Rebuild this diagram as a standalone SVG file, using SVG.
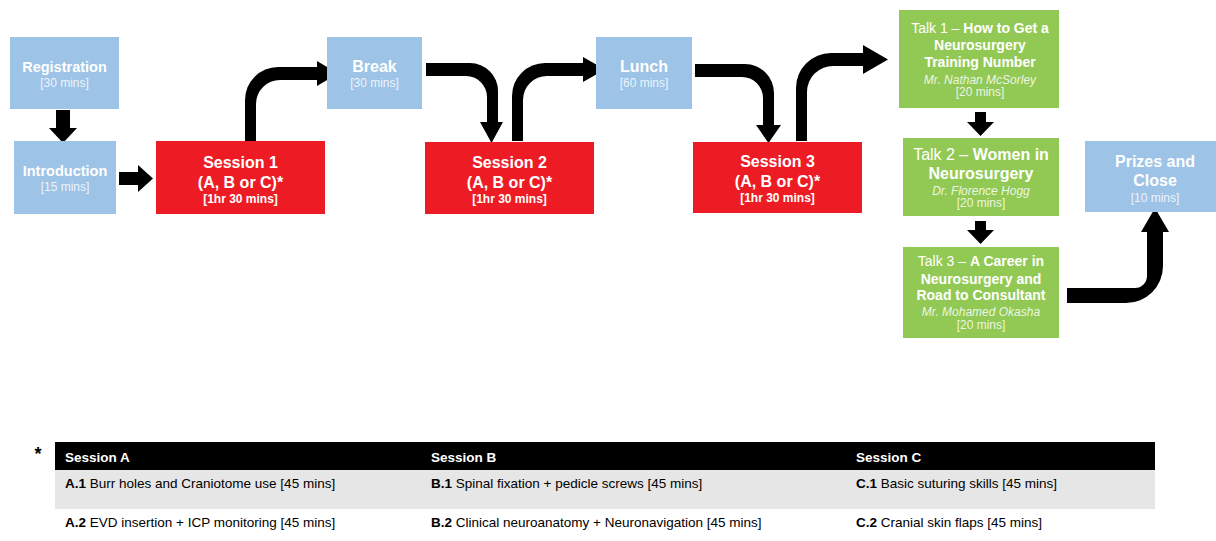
<svg xmlns="http://www.w3.org/2000/svg" width="1216" height="541" viewBox="0 0 1216 541">
<style>
text{font-family:"Liberation Sans",Arial,"DejaVu Sans",sans-serif;}
.blue{fill:#9dc3e6;}
.red{fill:#ed1c24;}
.green{fill:#92c955;}
.t{fill:#ffffff;font-weight:bold;text-anchor:middle;}
.s{fill:#ffffff;fill-opacity:0.85;font-size:12px;text-anchor:middle;}
.si{fill:#ffffff;fill-opacity:0.85;font-size:12px;font-style:italic;text-anchor:middle;}
.sb{fill:#ffffff;font-size:12px;font-weight:bold;text-anchor:middle;}
.n{font-weight:normal;}
.arr{fill:#000000;}
.th{fill:#ffffff;font-size:13.5px;font-weight:bold;}
.td{fill:#000000;font-size:13.5px;}
.b{font-weight:bold;}
</style>
<rect width="1216" height="541" fill="#ffffff"/>

<g id="connectors">
  <polygon class="arr" points="56,110 70,110 70,128 77,128 63,143 49,128 56,128"/>
  <polygon class="arr" points="119,172 138,172 138,165 153,178.5 138,192 138,185 119,185"/>
  <path class="arr" d="M245,141 V100 A33,33 0 0 1 278,67 H317 V61 L338,73.5 L317,86 V80 H280 A24,24 0 0 0 256,104 V141 Z"/>
  <path class="arr" d="M426,63 H470 A28,28 0 0 1 498,91 V122 H503 L491.5,143 L480,122 H487 V97 A21,21 0 0 0 466,76 H426 Z"/>
  <path class="arr" d="M512,141 V96 A33,33 0 0 1 545,63 H583 V57 L605,69.5 L583,82 V76 H547 A24,24 0 0 0 523,100 V141 Z"/>
  <path class="arr" d="M695,64 H745 A29,29 0 0 1 774,93 V125 H781 L768.5,143 L756,125 H763 V98 A21,21 0 0 0 742,77 H695 Z"/>
  <path class="arr" d="M796,141 V88 A35,35 0 0 1 831,53 H863 V45 L888,59.5 L863,74 V66 H833 A26,26 0 0 0 807,92 V141 Z"/>
  <polygon class="arr" points="975,112 986,112 986,122 994,122 980.5,136 967,122 975,122"/>
  <polygon class="arr" points="975,221 986,221 986,230 994,230 980.5,244 967,230 975,230"/>
  <path class="arr" d="M1067,288 H1135 A12,12 0 0 0 1147,276 V232 H1141 L1155,208 L1169,232 H1163 V266 A37,37 0 0 1 1126,303 H1067 Z"/>
</g>

<g id="registration">
  <rect class="blue" x="10" y="37" width="109" height="72"/>
  <text class="t" x="64.5" y="72" font-size="14.5">Registration</text>
  <text class="s" x="64.5" y="87">[30 mins]</text>
</g>
<g id="introduction">
  <rect class="blue" x="14" y="141" width="102" height="73"/>
  <text class="t" x="65" y="176" font-size="14.5">Introduction</text>
  <text class="s" x="65" y="191">[15 mins]</text>
</g>
<g id="session1">
  <rect class="red" x="156" y="141" width="169" height="73"/>
  <text class="t" x="240.5" y="167.5" font-size="16">Session 1</text>
  <text class="t" x="240.5" y="188" font-size="16">(A, B or C)*</text>
  <text class="sb" x="240.5" y="202.5">[1hr 30 mins]</text>
</g>
<g id="break">
  <rect class="blue" x="327" y="37" width="95" height="72"/>
  <text class="t" x="374.5" y="72" font-size="16">Break</text>
  <text class="s" x="374.5" y="87">[30 mins]</text>
</g>
<g id="session2">
  <rect class="red" x="425" y="142" width="169" height="72"/>
  <text class="t" x="509.5" y="167.5" font-size="16">Session 2</text>
  <text class="t" x="509.5" y="188" font-size="16">(A, B or C)*</text>
  <text class="sb" x="509.5" y="202.5">[1hr 30 mins]</text>
</g>
<g id="lunch">
  <rect class="blue" x="596" y="37" width="96" height="72"/>
  <text class="t" x="644" y="72" font-size="16">Lunch</text>
  <text class="s" x="644" y="87">[60 mins]</text>
</g>
<g id="session3">
  <rect class="red" x="693" y="142" width="169" height="71"/>
  <text class="t" x="777.5" y="167" font-size="16">Session 3</text>
  <text class="t" x="777.5" y="187" font-size="16">(A, B or C)*</text>
  <text class="sb" x="777.5" y="201.5">[1hr 30 mins]</text>
</g>
<g id="talk1">
  <rect class="green" x="899" y="10" width="160" height="98"/>
  <text class="t" x="980" y="33" font-size="14"><tspan class="n">Talk 1 – </tspan>How to Get a</text>
  <text class="t" x="980" y="50" font-size="14">Neurosurgery</text>
  <text class="t" x="980" y="67" font-size="14">Training Number</text>
  <text class="si" x="980" y="83.5">Mr. Nathan McSorley</text>
  <text class="s" x="980" y="95.5">[20 mins]</text>
</g>
<g id="talk2">
  <rect class="green" x="903" y="138" width="156" height="78"/>
  <text class="t" x="981" y="160" font-size="16"><tspan class="n">Talk 2 – </tspan>Women in</text>
  <text class="t" x="981" y="178.5" font-size="16">Neurosurgery</text>
  <text class="si" x="981" y="195">Dr. Florence Hogg</text>
  <text class="s" x="981" y="207">[20 mins]</text>
</g>
<g id="talk3">
  <rect class="green" x="903" y="247" width="156" height="91"/>
  <text class="t" x="981" y="266" font-size="14"><tspan class="n">Talk 3 – </tspan>A Career in</text>
  <text class="t" x="981" y="283.5" font-size="14">Neurosurgery and</text>
  <text class="t" x="981" y="300" font-size="14">Road to Consultant</text>
  <text class="si" x="981" y="316">Mr. Mohamed Okasha</text>
  <text class="s" x="981" y="328.5">[20 mins]</text>
</g>
<g id="prizes">
  <rect class="blue" x="1085" y="141" width="140" height="71"/>
  <text class="t" x="1155" y="167" font-size="16">Prizes and</text>
  <text class="t" x="1155" y="186" font-size="16">Close</text>
  <text class="s" x="1155" y="202">[10 mins]</text>
</g>

<g id="legend">
  <text x="38" y="460" font-size="18" font-weight="bold" fill="#000000" text-anchor="middle">*</text>
  <rect x="55" y="442" width="1100" height="28" fill="#000000"/>
  <rect x="55" y="470" width="1100" height="39" fill="#e6e6e6"/>
  <text class="th" x="65" y="462">Session A</text>
  <text class="th" x="431" y="462">Session B</text>
  <text class="th" x="856" y="462">Session C</text>
  <text class="td" x="65" y="488"><tspan class="b">A.1</tspan> Burr holes and Craniotome use [45 mins]</text>
  <text class="td" x="431" y="488"><tspan class="b">B.1</tspan> Spinal fixation + pedicle screws [45 mins]</text>
  <text class="td" x="856" y="488"><tspan class="b">C.1</tspan> Basic suturing skills [45 mins]</text>
  <text class="td" x="65" y="527"><tspan class="b">A.2</tspan> EVD insertion + ICP monitoring [45 mins]</text>
  <text class="td" x="431" y="527"><tspan class="b">B.2</tspan> Clinical neuroanatomy + Neuronavigation [45 mins]</text>
  <text class="td" x="856" y="527"><tspan class="b">C.2</tspan> Cranial skin flaps [45 mins]</text>
</g>
</svg>
